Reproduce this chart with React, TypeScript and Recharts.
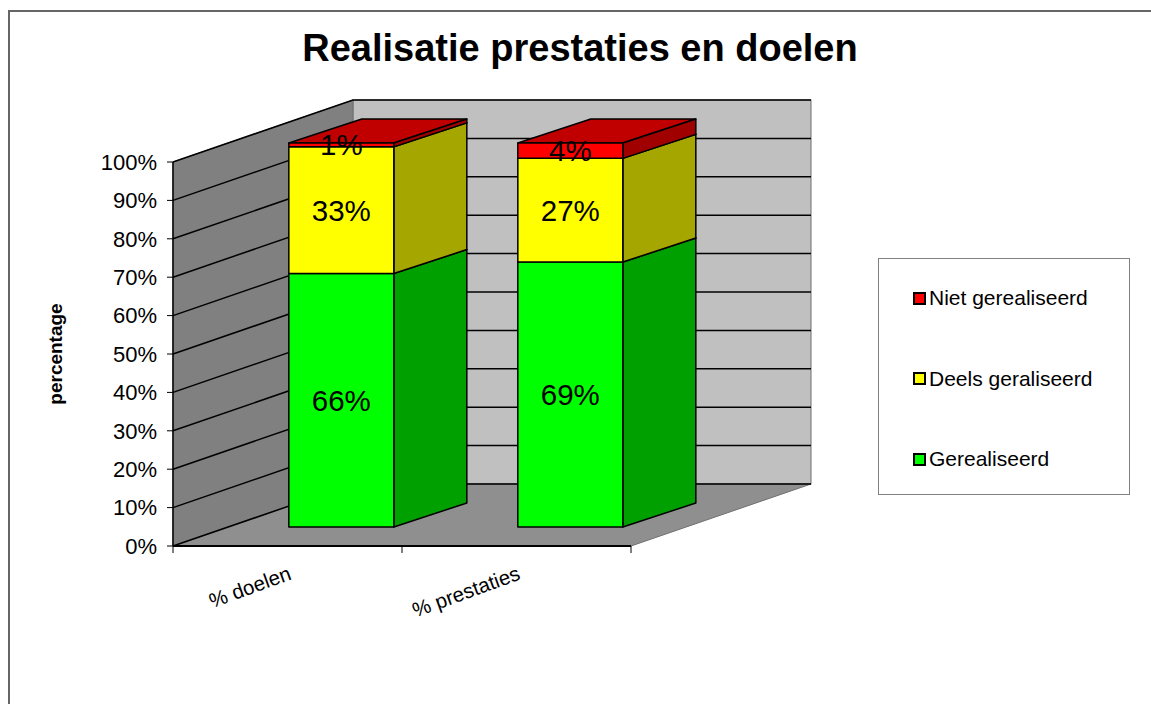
import React from "react";
import {
  BarChart,
  Bar,
  XAxis,
  YAxis,
  CartesianGrid,
  ReferenceArea,
  LabelList,
  Legend,
} from "recharts";

const categories = ["% doelen", "% prestaties"];
const gerealiseerd = [66, 69];
const deelsGeraliseerd = [33, 27];
const nietGerealiseerd = [1, 4];
const yTicks = [0, 10, 20, 30, 40, 50, 60, 70, 80, 90, 100];
const legendOrder = ["niet", "deels", "gerealiseerd"];

const data = categories.map((name, i) => ({
  name,
  gerealiseerd: gerealiseerd[i],
  deels: deelsGeraliseerd[i],
  niet: nietGerealiseerd[i],
}));

// oblique "3D" offsets: walls/floor depth, bar position and bar depth
const WALL_DX = 180;
const WALL_DY = -62;
const BAR_FX = 54;
const BAR_FY = -19;
const BAR_DX = 73;
const BAR_DY = -24;

const FONT = '"Liberation Sans", Arial, sans-serif';

const faces = {
  gerealiseerd: { front: "#00ff00", top: "#00c000", side: "#00a000" },
  deels: { front: "#ffff00", top: "#c0c000", side: "#a6a600" },
  niet: { front: "#ff0000", top: "#c00000", side: "#a00000" },
};

const pts = (arr: number[][]) => arr.map((p) => p.join(",")).join(" ");

const box3d = (c: { front: string; top: string; side: string }) => (props: any) => {
  const { x, y, width: w, height: h } = props;
  if (w == null || h == null) return <g />;
  const fx = x + BAR_FX;
  const fy = y + BAR_FY;
  return (
    <g stroke="#000" strokeWidth={1.5} strokeLinejoin="round">
      <polygon
        points={pts([
          [fx, fy],
          [fx + BAR_DX, fy + BAR_DY],
          [fx + w + BAR_DX, fy + BAR_DY],
          [fx + w, fy],
        ])}
        fill={c.top}
      />
      <polygon
        points={pts([
          [fx + w, fy],
          [fx + w + BAR_DX, fy + BAR_DY],
          [fx + w + BAR_DX, fy + h + BAR_DY],
          [fx + w, fy + h],
        ])}
        fill={c.side}
      />
      <rect x={fx} y={fy} width={w} height={h} fill={c.front} />
    </g>
  );
};

const renderWalls = (props: any) => {
  const { x, y, width: w, height: h } = props;
  return (
    <g stroke="#707070" strokeWidth={1}>
      <rect x={x + WALL_DX} y={y + WALL_DY} width={w} height={h} fill="#c0c0c0" />
      <polygon
        points={pts([
          [x, y],
          [x + WALL_DX, y + WALL_DY],
          [x + WALL_DX, y + h + WALL_DY],
          [x, y + h],
        ])}
        fill="#808080"
      />
      <polygon
        points={pts([
          [x, y + h],
          [x + w, y + h],
          [x + w + WALL_DX, y + h + WALL_DY],
          [x + WALL_DX, y + h + WALL_DY],
        ])}
        fill="#8f8f8f"
      />
    </g>
  );
};

const renderGridLine = (props: any) => {
  const { x1, y1, x2, index } = props;
  return (
    <polyline
      key={`grid-${index}`}
      points={pts([
        [x1, y1],
        [x1 + WALL_DX, y1 + WALL_DY],
        [x2 + WALL_DX, y1 + WALL_DY],
      ])}
      fill="none"
      stroke="#000"
      strokeWidth={1.5}
    />
  );
};

const renderLabel = (props: any) => {
  const vb = props.viewBox ?? props;
  const { x, y, width, height } = vb;
  const cx = x + BAR_FX + width / 2;
  const cy = y + BAR_FY + height / 2;
  return (
    <text
      x={cx}
      y={cy}
      textAnchor="middle"
      dominantBaseline="central"
      fontSize={29.5}
      fontFamily={FONT}
      fill="#000"
    >
      {`${props.value}%`}
    </text>
  );
};

const renderXTick = (props: any) => {
  const { x, y, payload, index, visibleTicksCount } = props;
  const off = payload?.offset ?? 0;
  const tx = x + 5;
  const ty = y + 25;
  return (
    <g>
      <line x1={x - off} y1={y - 8} x2={x - off} y2={y - 1} stroke="#000" />
      {index === visibleTicksCount - 1 && (
        <line x1={x + off} y1={y - 8} x2={x + off} y2={y - 1} stroke="#000" />
      )}
      <text
        x={tx}
        y={ty}
        transform={`rotate(-20, ${tx}, ${ty})`}
        textAnchor="end"
        fontSize={20.5}
        fontFamily={FONT}
        fill="#000"
      >
        {payload.value}
      </text>
    </g>
  );
};

const LegendBox = (props: any) => {
  const items = [...(props.payload ?? [])].sort(
    (a: any, b: any) => legendOrder.indexOf(a.dataKey) - legendOrder.indexOf(b.dataKey)
  );
  return (
    <div
      style={{
        width: 252,
        height: 237,
        boxSizing: "border-box",
        border: "1px solid #808080",
        background: "#fff",
        position: "relative",
        fontFamily: FONT,
      }}
    >
      {items.map((item: any, i: number) => (
        <div
          key={item.value}
          style={{
            position: "absolute",
            left: 34,
            top: 39 + i * 80.5,
            transform: "translateY(-50%)",
            display: "flex",
            alignItems: "center",
            fontSize: 21,
            color: "#000",
            whiteSpace: "nowrap",
          }}
        >
          <span
            style={{
              display: "inline-block",
              width: 13,
              height: 13,
              boxSizing: "border-box",
              border: "2px solid #000",
              background: item.color,
              marginRight: 3,
            }}
          />
          {item.value}
        </div>
      ))}
    </div>
  );
};

export default function App() {
  return (
    <div
      style={{
        position: "absolute",
        left: 8,
        top: 10,
        width: 1160,
        height: 720,
        borderTop: "2px solid #666",
        borderLeft: "2px solid #666",
        background: "#fff",
      }}
    >
      <style>{"body{overflow:hidden}"}</style>
      <div
        style={{
          position: "absolute",
          left: 0,
          width: 1140,
          top: 17,
          textAlign: "center",
          fontFamily: FONT,
          fontWeight: "bold",
          fontSize: 38,
          lineHeight: "38px",
          color: "#000",
        }}
      >
        Realisatie prestaties en doelen
      </div>
      <div style={{ position: "absolute", left: 0, top: 0 }}>
        <BarChart
          width={1130}
          height={685}
          data={data}
          margin={{ top: 150, right: 509, bottom: 121, left: 103 }}
          barCategoryGap="27%"
        >
          <ReferenceArea
            y1={0}
            y2={100}
            shape={renderWalls}
            ifOverflow="visible"
            zIndex={-200}
          />
          <CartesianGrid vertical={false} horizontal={renderGridLine} />
          <XAxis
            dataKey="name"
            tick={renderXTick}
            tickLine={false}
            interval={0}
            height={30}
            axisLine={{ stroke: "#000", strokeWidth: 2 }}
          />
          <YAxis
            type="number"
            domain={[0, 100]}
            ticks={yTicks}
            interval={0}
            tickFormatter={(v: number) => `${v}%`}
            width={60}
            tick={{ fill: "#000", fontSize: 22, fontFamily: FONT }}
            tickLine={{ stroke: "#000" }}
            tickSize={6}
            tickMargin={10}
            axisLine={{ stroke: "#000", strokeWidth: 1.5 }}
            label={{
              content: (p: any) => {
                const vb = p.viewBox;
                const lx = vb.x - 58;
                const ly = vb.y + vb.height / 2;
                return (
                  <text
                    x={lx}
                    y={ly}
                    transform={`rotate(-90, ${lx}, ${ly})`}
                    textAnchor="middle"
                    dominantBaseline="central"
                    fontSize={19}
                    fontWeight="bold"
                    fontFamily={FONT}
                    fill="#000"
                  >
                    percentage
                  </text>
                );
              },
            }}
          />
          <Legend
            layout="vertical"
            align="center"
            verticalAlign="middle"
            content={LegendBox}
            wrapperStyle={{ left: 868, top: 246, width: 252, height: 237 }}
          />
          <Bar
            dataKey="gerealiseerd"
            name="Gerealiseerd"
            stackId="a"
            fill={faces.gerealiseerd.front}
            shape={box3d(faces.gerealiseerd)}
            isAnimationActive={false}
          >
            <LabelList dataKey="gerealiseerd" content={renderLabel} />
          </Bar>
          <Bar
            dataKey="deels"
            name="Deels geraliseerd"
            stackId="a"
            fill={faces.deels.front}
            shape={box3d(faces.deels)}
            isAnimationActive={false}
          >
            <LabelList dataKey="deels" content={renderLabel} />
          </Bar>
          <Bar
            dataKey="niet"
            name="Niet gerealiseerd"
            stackId="a"
            fill={faces.niet.front}
            shape={box3d(faces.niet)}
            isAnimationActive={false}
          >
            <LabelList dataKey="niet" content={renderLabel} />
          </Bar>
        </BarChart>
      </div>
    </div>
  );
}
